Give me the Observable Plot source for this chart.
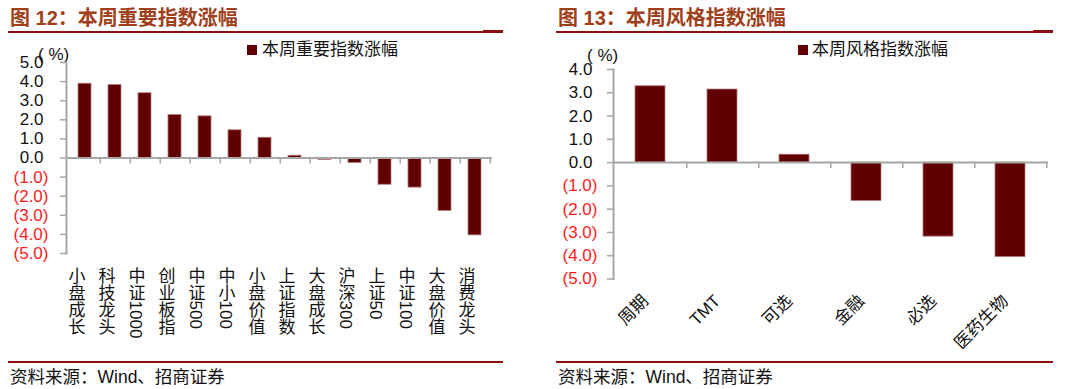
<!DOCTYPE html>
<html>
<head>
<meta charset="utf-8">
<script src="https://cdn.jsdelivr.net/npm/d3@7"></script>
<script src="https://cdn.jsdelivr.net/npm/@observablehq/plot@0.6"></script>
<style>
  html, body { margin: 0; padding: 0; background: #fff; }
  #root { position: relative; width: 1080px; height: 389px; overflow: hidden; font-family: "Liberation Sans", "Noto Sans CJK SC", sans-serif; }
  .abs { position: absolute; white-space: nowrap; }
  .title { font-size: 20px; font-weight: 700; color: #a0401a; line-height: 24px; font-family: "Liberation Sans", "Noto Sans CJK SC", sans-serif; }
  .rule { position: absolute; background: #8c1010; }
  .src { font-size: 17.5px; color: #111; line-height: 20px; }
  .unit { font-size: 17px; color: #111; line-height: 20px; }
  .legend { font-size: 17px; color: #111; line-height: 20px; }
  .sw { position: absolute; width: 10px; height: 10px; background: #600000; }
  svg { position: absolute; overflow: visible; }
</style>
</head>
<body>
<div id="root"></div>
<script>
// ---- data ----
const indexNames = ["小盘成长","科技龙头","中证1000","创业板指","中证500","中小100","小盘价值","上证指数","大盘成长","沪深300","上证50","中证100","大盘价值","消费龙头"];
const indexChanges = [3.89, 3.82, 3.39, 2.25, 2.18, 1.45, 1.06, 0.12, -0.10, -0.26, -1.40, -1.55, -2.77, -4.05];
const styleNames = ["周期","TMT","可选","金融","必选","医药生物"];
const styleChanges = [3.28, 3.14, 0.34, -1.65, -3.18, -4.06];
const indexTicks = [-5,-4,-3,-2,-1,0,1,2,3,4,5];
const styleTicks = [-5,-4,-3,-2,-1,0,1,2,3,4];
const titles = ["图 12：本周重要指数涨幅", "图 13：本周风格指数涨幅"];
const legendLabels = ["本周重要指数涨幅", "本周风格指数涨幅"];
const unitLabel = "( %)";
const sourceLabel = "资料来源：Wind、招商证券";

const BAR = "#600000";
const AXIS = "#a6a6a6";
const fmt = d => d < 0 ? `(${Math.abs(d).toFixed(1)})` : d.toFixed(1);

const root = document.getElementById("root");
function el(cls, style, text) {
  const e = document.createElement("div");
  e.className = cls;
  Object.assign(e.style, style);
  if (text != null) e.textContent = text;
  root.appendChild(e);
  return e;
}

function chart({names, values, ticks, domain, width, height, ml, mr, mt, mb, mode, posDx, negDx}) {
  const n = names.length;
  const step = (width - ml - mr) / n;
  const data = names.map((name, i) => ({name, value: values[i]}));
  const labelMark = mode === "vertical"
    ? Plot.text(names, {x: d => d, text: d => d, frameAnchor: "bottom", dy: 1, dx: -10, textAnchor: "start", lineAnchor: "top", fontSize: 17, fill: "#111"})
    : Plot.text(names, {x: d => d, text: d => d, frameAnchor: "bottom", dy: 19, dx: -5, rotate: -45, textAnchor: "end", lineAnchor: "middle", fontSize: 17, fill: "#111"});
  const svg = Plot.plot({
    width, height,
    marginLeft: ml, marginRight: mr, marginTop: mt, marginBottom: mb,
    style: {fontFamily: '"Liberation Sans", "Noto Sans CJK SC", sans-serif', fontSize: "17px", background: "transparent", overflow: "visible"},
    x: {domain: names, paddingInner: 0.58, paddingOuter: 0.29, axis: null},
    y: {domain, axis: null},
    marks: [
      Plot.barY(data, {x: "name", y: "value", fill: BAR, stroke: "#b87878", strokeWidth: 0.8}),
      Plot.axisY({ticks, tickSize: 6, tickFormat: () => "", label: null, stroke: AXIS, strokeWidth: 1.5}),
      Plot.frame({anchor: "left", stroke: AXIS, strokeWidth: 2}),
      Plot.ruleY([0], {stroke: AXIS, strokeWidth: 2}),
      Plot.ruleX(names, {x: d => d, dx: step / 2, y1: 0, y2: 0, insetBottom: -6, stroke: AXIS, strokeWidth: 1.5}),
      Plot.text(ticks.filter(d => d >= 0), {y: d => d, text: fmt, frameAnchor: "left", textAnchor: "end", dx: posDx, fill: "#111", fontSize: 17}),
      Plot.text(ticks.filter(d => d < 0), {y: d => d, text: fmt, frameAnchor: "left", textAnchor: "end", dx: negDx, fill: "#ff1a1a", fontSize: 17}),
      labelMark
    ]
  });
  if (mode === "vertical") {
    const nameSet = new Set(names);
    svg.querySelectorAll("text").forEach(t => {
      if (!nameSet.has(t.textContent)) return;
      t.removeAttribute("dy");
      t.setAttribute("writing-mode", "tb");
      t.style.writingMode = "vertical-rl";
      t.style.textOrientation = "mixed";
      t.setAttribute("text-anchor", "start");
      t.parentNode.setAttribute("text-anchor", "start");
    });
  }
  return svg;
}

const p = [{x: 8, tx: 10, ruleEnd: 503, legSq: 247, legTx: 262, unitX: 38, unitY: 45},
           {x: 556, tx: 558, ruleEnd: 1053, legSq: 798, legTx: 812, unitX: 587, unitY: 46}];
p.forEach((q, i) => {
  el("abs title", {left: q.tx + "px", top: "6px"}, titles[i]);
  el("rule", {left: q.x + "px", top: "31px", width: (q.ruleEnd - q.x) + "px", height: "2px"});
  el("rule", {left: (q.ruleEnd - 20) + "px", top: "30px", width: "20px", height: "3px"});
  el("sw", {left: q.legSq + "px", top: "45px"});
  el("abs legend", {left: q.legTx + "px", top: "40px"}, legendLabels[i]);
  el("abs unit", {left: q.unitX + "px", top: q.unitY + "px"}, unitLabel);
  el("rule", {left: q.x + "px", top: "361px", width: (q.ruleEnd - q.x) + "px", height: "2px"});
  el("abs src", {left: q.tx + "px", top: "367px"}, sourceLabel);
});

const left = chart({names: indexNames, values: indexChanges, ticks: indexTicks, domain: [-5, 5],
  width: 520, height: 310, ml: 66, mr: 28, mt: 22, mb: 97, mode: "vertical", posDx: -23, negDx: -18});
left.style.left = "0px"; left.style.top = "40px";
root.appendChild(left);

const right = chart({names: styleNames, values: styleChanges, ticks: styleTicks, domain: [-5, 4],
  width: 520, height: 320, ml: 73, mr: 12, mt: 29, mb: 81.5, mode: "rotated", posDx: -21, negDx: -16});
right.style.left = "540px"; right.style.top = "40px";
root.appendChild(right);
</script>
</body>
</html>
